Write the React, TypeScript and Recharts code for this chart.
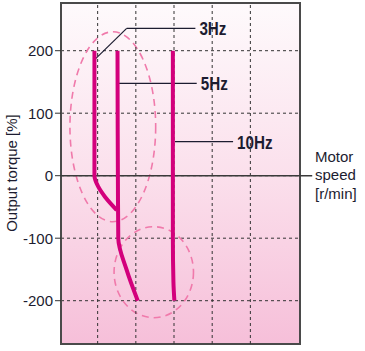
import {
  LineChart, Line, XAxis, YAxis, CartesianGrid,
  ReferenceLine, ReferenceArea,
} from 'recharts'

// x is in grid units (one unit per vertical grid cell), y is torque in %
const X_DOMAIN: [number, number] = [0.04, 6.3]
const Y_DOMAIN: [number, number] = [-269.3, 276.3]
const X_TICKS = [1, 2, 3, 4, 5]
const Y_TICKS = [-200, -100, 0, 100, 200]

const hz3 = [
  { x: 0.916, y: 200 },
  { x: 0.916, y: 0 },
  { x: 1.016, y: -17.6 },
  { x: 1.19, y: -33.6 },
  { x: 1.5, y: -55 },
]
const hz5 = [
  { x: 1.52, y: 200 },
  { x: 1.53, y: 0 },
  { x: 1.54, y: -100 },
  { x: 1.755, y: -150 },
  { x: 2.05, y: -200 },
]
const hz10 = [
  { x: 2.97, y: 200 },
  { x: 2.97, y: -100 },
  { x: 2.985, y: -170 },
  { x: 3.01, y: -200 },
]

// leader lines to the frequency labels
const lead3 = [{ x: 0.955, y: 187.8 }, { x: 1.76, y: 235.8 }, { x: 3.56, y: 235.8 }]
const lead5 = [{ x: 1.56, y: 147.8 }, { x: 3.595, y: 147.8 }]
const lead10 = [{ x: 3.026, y: 54.4 }, { x: 4.547, y: 54.4 }]

// dashed ellipses (bounding boxes)
const ellipses = [
  { x1: 0.274, x2: 2.52, y1: -73.6, y2: 230.2 },
  { x1: 1.43, x2: 3.51, y1: -227.2, y2: -81.6 },
]

const CURVE = '#d3007c'
const INK = '#1c1c30'
const GRID = '#333'

const Ellipse = (p: any) => (
  <ellipse
    cx={p.x + p.width / 2} cy={p.y + p.height / 2}
    rx={p.width / 2} ry={p.height / 2}
    fill="none" stroke="#f07aab" strokeWidth={1.6} strokeDasharray="7 5"
  />
)

// condensed bold label at the right end of a leader line
const hzLabel = (text: string) => (p: any) => {
  const vb = p.viewBox || {}
  const x = vb.x + vb.width + 4
  const y = vb.y + vb.height / 2
  return (
    <text transform={`translate(${x},${y}) scale(0.8,1)`} dy="0.36em"
      fill={INK} fontSize={19} fontWeight={700}
      fontFamily='"Liberation Sans", Arial, sans-serif'>
      {text}
    </text>
  )
}

export default function App() {
  return (
    <div style={{ position: 'absolute', left: 0, top: 0, width: 365, height: 351, fontFamily: '"Liberation Sans", Arial, sans-serif' }}>
      <LineChart width={365} height={351} margin={{ top: 3, right: 65, bottom: 7, left: 0 }}>
        <defs>
          <linearGradient id="bg" x1="0" y1="0" x2="0" y2="1">
            <stop offset="0%" stopColor="#fefafc" />
            <stop offset="50%" stopColor="#fbe0ec" />
            <stop offset="100%" stopColor="#f6bfd9" />
          </linearGradient>
        </defs>
        <CartesianGrid fill="url(#bg)" vertical={false} stroke={GRID} strokeDasharray="3 3" />
        <XAxis type="number" dataKey="x" domain={X_DOMAIN} ticks={X_TICKS}
          allowDataOverflow height={0} tick={false} tickLine={false} axisLine={false} />
        <YAxis type="number" dataKey="y" domain={Y_DOMAIN} ticks={Y_TICKS} allowDataOverflow
          width={61} tickSize={6} tickMargin={2} axisLine={false}
          tickLine={{ stroke: GRID }}
          tick={{ fill: INK, fontSize: 15 }}
        />
        {X_TICKS.map((t) => (
          <ReferenceLine key={t} x={t} stroke={GRID} strokeDasharray="3 3" />
        ))}
        {ellipses.map((e, i) => (
          <ReferenceArea key={i} x1={e.x1} x2={e.x2} y1={e.y1} y2={e.y2} shape={Ellipse} />
        ))}
        <ReferenceArea x1={X_DOMAIN[0]} x2={X_DOMAIN[1]} y1={Y_DOMAIN[0]} y2={Y_DOMAIN[1]}
          fill="none" fillOpacity={0} stroke="#4a4a4a" strokeWidth={2} />
        <ReferenceLine segment={[{ x: X_DOMAIN[0], y: 0 }, { x: 6.62, y: 0 }]}
          ifOverflow="visible" stroke="#3a3a3a" strokeWidth={1.5} />
        <ReferenceLine segment={[lead3[0], lead3[1]]} ifOverflow="visible" stroke={INK} strokeWidth={1.2} />
        <ReferenceLine segment={[lead3[1], lead3[2]]} ifOverflow="visible" stroke={INK} strokeWidth={1.2}
          label={hzLabel('3Hz')} />
        <ReferenceLine segment={[lead5[0], lead5[1]]} ifOverflow="visible" stroke={INK} strokeWidth={1.2}
          label={hzLabel('5Hz')} />
        <ReferenceLine segment={[lead10[0], lead10[1]]} ifOverflow="visible" stroke={INK} strokeWidth={1.2}
          label={hzLabel('10Hz')} />
        <Line data={hz3} dataKey="y" type="monotoneY" stroke={CURVE} strokeWidth={4}
          dot={false} isAnimationActive={false} />
        <Line data={hz5} dataKey="y" type="monotoneY" stroke={CURVE} strokeWidth={4}
          dot={false} isAnimationActive={false} />
        <Line data={hz10} dataKey="y" type="monotoneY" stroke={CURVE} strokeWidth={4}
          dot={false} isAnimationActive={false} />
      </LineChart>
      <div style={{
        position: 'absolute', left: 11.5 - 80, top: 173 - 9, width: 160, height: 18,
        lineHeight: '18px', textAlign: 'center', fontSize: 15, color: INK,
        transform: 'rotate(-90deg)',
      }}>
        Output torque [%]
      </div>
      <div style={{ position: 'absolute', left: 315, top: 147.5, fontSize: 15, lineHeight: '18.5px', color: INK }}>
        Motor<br />speed<br />[r/min]
      </div>
    </div>
  )
}
